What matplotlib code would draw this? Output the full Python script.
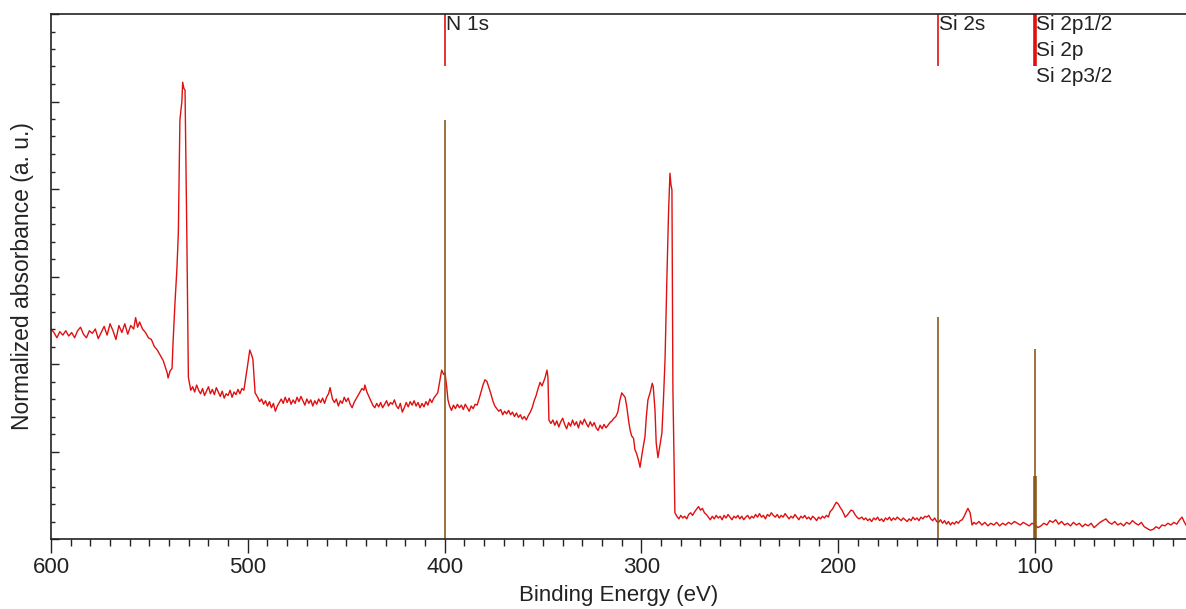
import matplotlib
matplotlib.use("Agg")
import matplotlib.pyplot as plt
from matplotlib.ticker import MultipleLocator, NullFormatter

plt.rcParams['font.family'] = ['Liberation Sans', 'DejaVu Sans']

# spectrum (binding energy in eV, normalized absorbance)
energia = [
    600.0, 598.5, 597.0, 595.5, 594.0, 592.5, 591.0, 589.5, 588.0, 586.5,
    585.0, 583.5, 582.0, 580.5, 579.0, 577.5, 576.0, 574.5, 573.0, 571.5,
    570.0, 568.5, 567.0, 565.5, 564.0, 562.5, 561.0, 559.5, 558.0, 557.0,
    556.0, 555.0, 553.5, 552.0, 550.5, 549.0, 547.5, 546.0, 544.5, 543.0,
    542.0, 541.0, 540.5, 539.5, 538.5, 538.0, 537.0, 536.0, 535.3, 534.5,
    533.5, 533.1, 532.5, 531.9, 531.0, 530.2, 529.0, 528.0, 527.0, 526.0,
    525.0, 524.0, 523.0, 522.0, 521.0, 520.0, 519.0, 518.0, 517.0, 516.0,
    515.0, 514.0, 513.0, 512.0, 511.0, 510.0, 509.0, 508.0, 507.0, 506.0,
    505.0, 504.0, 503.0, 502.0, 501.0, 500.0, 499.0, 498.0, 497.4, 496.3,
    495.0, 494.0, 493.0, 492.0, 491.0, 490.0, 489.0, 488.0, 487.0, 486.0,
    485.0, 484.0, 483.0, 482.0, 481.0, 480.0, 479.0, 478.0, 477.0, 476.0,
    475.0, 474.0, 473.0, 472.0, 471.0, 470.0, 469.0, 468.0, 467.0, 466.0,
    465.0, 464.0, 463.0, 462.0, 461.0, 460.0, 459.0, 458.2, 457.0, 456.0,
    455.0, 454.0, 453.0, 452.0, 451.0, 450.0, 449.0, 448.0, 447.0, 446.0,
    445.0, 444.0, 443.0, 442.0, 441.0, 440.5, 439.5, 438.5, 437.5, 436.5,
    435.5, 434.5, 433.5, 432.5, 431.5, 430.5, 429.5, 428.5, 427.5, 426.5,
    425.5, 424.5, 423.5, 422.5, 421.5, 420.5, 419.5, 418.5, 417.5, 416.5,
    415.5, 414.5, 413.5, 412.5, 411.5, 410.5, 409.5, 408.5, 407.5, 406.5,
    405.5, 404.5, 403.5, 402.5, 401.5, 400.5, 399.8, 399.0, 398.3, 397.5,
    396.5, 395.5, 394.5, 393.5, 392.5, 391.5, 390.5, 389.5, 388.5, 387.5,
    386.5, 385.5, 384.5, 383.5, 382.5, 381.5, 380.5, 379.5, 378.5, 377.5,
    376.5, 375.5, 374.5, 373.5, 372.5, 371.5, 370.5, 369.5, 368.5, 367.5,
    366.5, 365.5, 364.5, 363.5, 362.5, 361.5, 360.5, 359.5, 358.5, 357.5,
    356.5, 355.5, 354.5, 353.5, 352.5, 351.5, 350.5, 350.0, 349.0, 348.0,
    347.5, 347.0, 346.0, 345.0, 344.0, 343.0, 342.0, 341.0, 340.0, 339.0,
    338.0, 337.0, 336.0, 335.0, 334.0, 333.0, 332.0, 331.0, 330.0, 329.0,
    328.0, 327.0, 326.0, 325.0, 324.0, 323.0, 322.0, 321.0, 320.0, 319.0,
    318.0, 317.0, 316.0, 315.0, 314.0, 313.0, 312.0, 311.0, 310.0, 309.0,
    308.3, 307.5, 306.5, 305.8, 305.0, 304.0, 303.3, 302.5, 301.5, 300.7,
    299.5, 298.2, 297.5, 296.7, 295.5, 294.5, 294.0, 293.1, 292.5, 291.6,
    290.5, 289.6, 288.8, 288.0, 287.0, 286.2, 285.5, 285.0, 284.5, 284.0,
    283.0, 282.0, 281.0, 280.0, 279.0, 278.0, 277.0, 276.0, 275.0, 274.0,
    273.0, 272.0, 271.0, 270.0, 269.0, 268.0, 267.0, 266.0, 265.0, 264.0,
    263.0, 262.0, 261.0, 260.0, 259.0, 258.0, 257.0, 256.0, 255.0, 254.0,
    253.0, 252.0, 251.0, 250.0, 249.0, 248.0, 247.0, 246.0, 245.0, 244.0,
    243.0, 242.0, 241.0, 240.0, 239.0, 238.0, 237.0, 236.0, 235.0, 234.0,
    233.0, 232.0, 231.0, 230.0, 229.0, 228.0, 227.0, 226.0, 225.0, 224.0,
    223.0, 222.0, 221.0, 220.0, 219.0, 218.0, 217.0, 216.0, 215.0, 214.0,
    213.0, 212.0, 211.0, 210.0, 209.0, 208.0, 207.0, 206.0, 205.0, 204.2,
    203.0, 202.0, 201.0, 200.0, 199.0, 198.1, 197.0, 196.5, 195.5, 194.5,
    193.5, 192.5, 191.5, 190.5, 189.5, 188.0, 187.0, 186.0, 185.0, 184.0,
    183.0, 182.0, 181.0, 180.0, 179.0, 178.0, 177.0, 176.0, 175.0, 174.0,
    173.0, 172.0, 171.0, 170.0, 169.0, 168.0, 167.0, 166.0, 165.0, 164.0,
    163.0, 162.0, 161.0, 160.0, 159.0, 158.0, 157.0, 156.0, 155.0, 154.0,
    153.0, 152.0, 151.0, 150.0, 149.0, 148.0, 147.0, 146.0, 145.0, 144.0,
    143.0, 142.0, 141.0, 140.0, 139.0, 138.0, 137.0, 136.0, 135.0, 134.1,
    133.0, 132.0, 131.0, 130.0, 128.5, 127.0, 125.5, 124.0, 122.5, 121.0,
    119.5, 118.0, 116.5, 115.0, 113.5, 112.0, 110.5, 109.0, 107.5, 106.0,
    104.5, 103.0, 101.5, 100.0, 98.5, 97.0, 95.5, 94.0, 92.5, 91.0,
    89.5, 88.0, 86.5, 85.0, 83.5, 82.0, 80.5, 79.0, 77.5, 76.0,
    74.5, 73.0, 71.5, 70.0, 68.5, 67.0, 65.5, 64.0, 62.5, 61.0,
    59.5, 58.0, 56.5, 55.0, 53.5, 52.0, 50.5, 49.0, 47.5, 46.0,
    44.5, 43.0, 41.5, 40.0, 38.5, 37.0, 35.5, 34.0, 32.5, 31.0,
    29.5, 28.0, 26.5, 25.3, 24.3, 23.3]
absorbancia = [
    2.40, 2.36, 2.30, 2.37, 2.33, 2.38, 2.32, 2.36, 2.30, 2.38,
    2.42, 2.34, 2.30, 2.38, 2.35, 2.40, 2.29, 2.36, 2.43, 2.33,
    2.46, 2.38, 2.28, 2.44, 2.36, 2.46, 2.34, 2.44, 2.40, 2.53,
    2.42, 2.48, 2.40, 2.36, 2.30, 2.28, 2.20, 2.16, 2.10, 2.04,
    1.97, 1.90, 1.84, 1.92, 1.95, 2.24, 2.70, 3.10, 3.50, 4.79,
    5.00, 5.22, 5.15, 5.13, 3.50, 1.85, 1.70, 1.74, 1.68, 1.76,
    1.70, 1.66, 1.72, 1.64, 1.69, 1.74, 1.66, 1.71, 1.65, 1.73,
    1.68, 1.63, 1.69, 1.61, 1.66, 1.64, 1.70, 1.62, 1.68, 1.65,
    1.71, 1.66, 1.72, 1.70, 1.85, 2.00, 2.16, 2.10, 2.05, 1.67,
    1.62, 1.57, 1.60, 1.54, 1.58, 1.52, 1.57, 1.50, 1.55, 1.46,
    1.52, 1.56, 1.60, 1.55, 1.62, 1.56, 1.61, 1.54, 1.59, 1.55,
    1.62, 1.57, 1.63, 1.58, 1.53, 1.60, 1.55, 1.59, 1.52, 1.58,
    1.54, 1.60, 1.56, 1.61, 1.55, 1.62, 1.66, 1.73, 1.60, 1.56,
    1.60, 1.52, 1.58, 1.55, 1.62, 1.57, 1.61, 1.54, 1.50, 1.56,
    1.60, 1.64, 1.68, 1.72, 1.70, 1.76, 1.68, 1.63, 1.58, 1.53,
    1.50, 1.55, 1.51, 1.56, 1.50, 1.54, 1.58, 1.52, 1.56, 1.54,
    1.59, 1.52, 1.49, 1.55, 1.45, 1.50, 1.56, 1.51, 1.57, 1.53,
    1.58, 1.52, 1.56, 1.50, 1.55, 1.51, 1.57, 1.53, 1.60, 1.56,
    1.61, 1.64, 1.67, 1.80, 1.93, 1.88, 1.90, 1.75, 1.59, 1.52,
    1.47, 1.53, 1.49, 1.54, 1.50, 1.53, 1.48, 1.54, 1.50, 1.46,
    1.52, 1.49, 1.54, 1.53, 1.60, 1.68, 1.76, 1.82, 1.80, 1.73,
    1.66, 1.58, 1.52, 1.49, 1.46, 1.48, 1.42, 1.46, 1.43, 1.47,
    1.42, 1.45, 1.40, 1.44, 1.39, 1.42, 1.37, 1.40, 1.36, 1.41,
    1.45, 1.50, 1.58, 1.64, 1.72, 1.79, 1.75, 1.78, 1.84, 1.93,
    1.85, 1.36, 1.32, 1.36, 1.30, 1.35, 1.28, 1.34, 1.38, 1.31,
    1.26, 1.33, 1.29, 1.36, 1.30, 1.34, 1.27, 1.35, 1.31, 1.37,
    1.32, 1.28, 1.34, 1.29, 1.33, 1.27, 1.24, 1.30, 1.26, 1.31,
    1.27, 1.30, 1.33, 1.35, 1.38, 1.40, 1.45, 1.58, 1.67, 1.64,
    1.62, 1.52, 1.35, 1.25, 1.18, 1.15, 1.02, 0.98, 0.90, 0.82,
    1.00, 1.17, 1.40, 1.59, 1.68, 1.78, 1.74, 1.47, 1.10, 0.93,
    1.08, 1.21, 1.60, 2.05, 3.04, 3.75, 4.18, 4.05, 3.99, 1.70,
    0.30, 0.26, 0.23, 0.27, 0.24, 0.26, 0.23, 0.28, 0.30, 0.27,
    0.31, 0.34, 0.37, 0.33, 0.35, 0.30, 0.28, 0.25, 0.22, 0.26,
    0.23, 0.27, 0.24, 0.26, 0.22, 0.27, 0.24, 0.28, 0.25, 0.22,
    0.26, 0.24, 0.27, 0.23, 0.26, 0.22, 0.25, 0.27, 0.23, 0.26,
    0.24, 0.28, 0.25, 0.29, 0.25, 0.27, 0.23, 0.28, 0.26, 0.30,
    0.27, 0.25, 0.28, 0.24, 0.27, 0.25, 0.29, 0.26, 0.23, 0.26,
    0.24, 0.28, 0.25, 0.22, 0.26, 0.24, 0.27, 0.23, 0.25, 0.22,
    0.26, 0.24, 0.21, 0.25, 0.23, 0.26, 0.24, 0.27, 0.25, 0.31,
    0.34, 0.38, 0.42, 0.40, 0.36, 0.33, 0.28, 0.25, 0.27, 0.30,
    0.33, 0.32, 0.28, 0.25, 0.23, 0.25, 0.22, 0.24, 0.21, 0.23,
    0.20, 0.24, 0.22, 0.25, 0.21, 0.23, 0.20, 0.24, 0.22, 0.25,
    0.21, 0.24, 0.22, 0.25, 0.23, 0.21, 0.24, 0.22, 0.20, 0.23,
    0.21, 0.25, 0.22, 0.24, 0.21, 0.25, 0.23, 0.26, 0.25, 0.27,
    0.23, 0.21, 0.24, 0.20, 0.19, 0.22, 0.18, 0.21, 0.17, 0.20,
    0.16, 0.19, 0.17, 0.20, 0.18, 0.21, 0.22, 0.26, 0.31, 0.35,
    0.30, 0.16, 0.19, 0.17, 0.20, 0.16, 0.19, 0.15, 0.18, 0.16,
    0.19, 0.15, 0.18, 0.16, 0.19, 0.17, 0.20, 0.18, 0.16, 0.19,
    0.17, 0.15, 0.18, 0.16, 0.13, 0.15, 0.18, 0.16, 0.21, 0.19,
    0.22, 0.17, 0.20, 0.16, 0.18, 0.15, 0.19, 0.16, 0.18, 0.14,
    0.17, 0.15, 0.18, 0.13, 0.16, 0.19, 0.21, 0.23, 0.19, 0.17,
    0.20, 0.16, 0.18, 0.15, 0.19, 0.17, 0.21, 0.18, 0.16, 0.19,
    0.14, 0.12, 0.10, 0.11, 0.14, 0.12, 0.16, 0.15, 0.18, 0.16,
    0.19, 0.17, 0.22, 0.25, 0.20, 0.16]

# reference lines (energy, height of brown bar, line width)
ref_energia = [400.0, 149.5, 100.0, 100.0]
ref_altura = [4.79, 2.54, 2.17, 0.72]
ref_ancho = [1.2, 1.2, 1.2, 2.6]

# red markers at the top with labels
marca_energia = [400.0, 149.5, 100.0]
marca_ancho = [1.2, 1.2, 2.6]
marca_texto = [["N 1s"], ["Si 2s"], ["Si 2p1/2", "Si 2p", "Si 2p3/2"]]

fig = plt.figure(figsize=(11.86, 6.09), dpi=100)
ax = fig.add_axes([51 / 1186, 70 / 609, 1 - 51 / 1186, 525 / 609])

ax.plot(energia, absorbancia, color="#e01010", lw=1.0)

for e, h, w in zip(ref_energia, ref_altura, ref_ancho):
    ax.vlines(e, 0, h, color="#8b5a1a", lw=w)

for e, w, textos in zip(marca_energia, marca_ancho, marca_texto):
    ax.vlines(e, 5.41, 6.0, color="#e01010", lw=w)
    for i, t in enumerate(textos):
        ax.annotate(t, xy=(e, 6.0), xytext=(1, -1 - 18.5 * i), textcoords="offset points",
                    ha="left", va="top", fontsize=15, color="#222222")

ax.set_xlim(600, 23.3)
ax.set_ylim(0, 6)
ax.xaxis.set_major_locator(MultipleLocator(100))
ax.xaxis.set_minor_locator(MultipleLocator(10))
ax.yaxis.set_major_locator(MultipleLocator(1))
ax.yaxis.set_minor_locator(MultipleLocator(0.2))
ax.yaxis.set_major_formatter(NullFormatter())

ax.tick_params(axis="x", which="major", direction="out", length=10, width=1, labelsize=16, pad=3, colors="#222222")
ax.tick_params(axis="x", which="minor", direction="out", length=5, width=1, colors="#222222")
ax.tick_params(axis="y", which="major", direction="in", length=6, width=1, colors="#222222")
ax.tick_params(axis="y", which="minor", direction="in", length=3, width=1, colors="#222222")

for lado in ["left", "bottom", "top"]:
    ax.spines[lado].set_color("#222222")
    ax.spines[lado].set_linewidth(1.2)
ax.spines["right"].set_visible(False)

ax.set_xlabel("Binding Energy (eV)", fontsize=16, color="#222222", labelpad=5)
ax.set_ylabel("Normalized absorbance (a. u.)", fontsize=16.5, color="#222222", labelpad=9)

fig.savefig("out.png", dpi=100)
